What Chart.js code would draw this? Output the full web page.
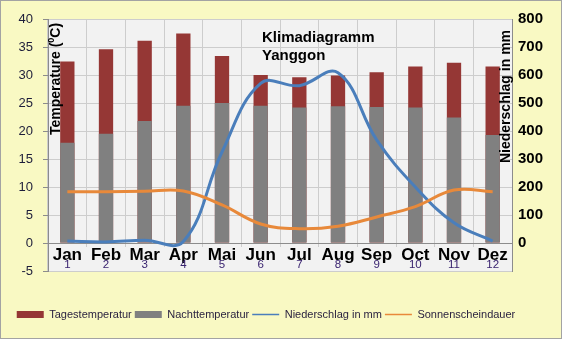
<!DOCTYPE html>
<html>
<head>
<meta charset="utf-8">
<title>Klimadiagramm Yanggon</title>
<script src="https://cdn.jsdelivr.net/npm/chart.js@4.4.1/dist/chart.umd.min.js"></script>
<style>
  html, body { margin: 0; padding: 0; background: #fff; }
  #frame { width: 560px; height: 337px; border: 1px solid #a3a3a3; background: #f9f9c3; }
  canvas { display: block; }
</style>
</head>
<body>
<div id="frame"><canvas id="klima" width="560" height="337"></canvas></div>
<script>
// ---- data ----
const months       = ["Jan", "Feb", "Mar", "Apr", "Mai", "Jun", "Jul", "Aug", "Sep", "Oct", "Nov", "Dez"];
const monthNumbers = ["1", "2", "3", "4", "5", "6", "7", "8", "9", "10", "11", "12"];
const tagesTemp    = [32.4, 34.6, 36.1, 37.4, 33.4, 30.0, 29.6, 29.9, 30.5, 31.5, 32.2, 31.5];
const nachtTemp    = [17.9, 19.5, 21.8, 24.5, 25.0, 24.5, 24.2, 24.4, 24.3, 24.2, 22.4, 19.3];
const niederschlag = [7, 4, 10, 5, 325, 570, 562, 608, 368, 200, 72, 7];
const sonnenschein = [183, 183, 185, 186, 136, 68, 51, 60, 93, 130, 189, 183];

// ---- look ----
const FONT    = "'Liberation Sans', Arial, sans-serif";
const PLOT_BG = "#f2f2f2";
const GRID    = "#cdcdcd";
const AXIS    = "#8c8c8c";

Chart.defaults.font.family = FONT;

// grey plot area; the strip under the zero line keeps only short tick stubs
const plotBackground = {
    id: "plotBackground",
    beforeDraw(chart) {
        const { ctx, chartArea: a } = chart;
        ctx.save();
        ctx.fillStyle = PLOT_BG;
        ctx.fillRect(a.left, a.top, a.width, a.height);
        ctx.restore();
    },
    beforeDatasetsDraw(chart) {
        const { ctx, chartArea: a, scales } = chart;
        const y0 = Math.round(scales.y.getPixelForValue(0));
        ctx.save();
        ctx.fillStyle = PLOT_BG;
        ctx.fillRect(a.left + 1, y0 + 4, a.width - 2, a.bottom - y0 - 4);
        ctx.restore();
    },
};

// title and the two axis captions sit inside the plot
const chartTexts = {
    id: "chartTexts",
    afterDraw(chart) {
        const { ctx, chartArea: a } = chart;
        ctx.save();
        ctx.fillStyle = "#000";
        ctx.textBaseline = "alphabetic";
        ctx.font = "bold 15px " + FONT;
        ctx.fillText("Klimadiagramm", a.left + 214, a.top + 23);
        ctx.fillText("Yanggon", a.left + 214, a.top + 41);

        ctx.save();
        ctx.translate(a.left + 12, a.top + 116);
        ctx.rotate(-Math.PI / 2);
        ctx.font = "bold 14px " + FONT;
        let x = 0;
        ctx.fillText("Temperature (", x, 0);
        x += ctx.measureText("Temperature (").width;
        ctx.font = "bold 9px " + FONT;
        ctx.fillText("0", x, -6);
        x += ctx.measureText("0").width;
        ctx.font = "bold 14px " + FONT;
        ctx.fillText("C)", x, 0);
        ctx.restore();

        ctx.save();
        ctx.translate(a.right - 2, a.top + 144);
        ctx.rotate(-Math.PI / 2);
        ctx.font = "bold 14px " + FONT;
        ctx.fillText("Niederschlag in mm", 0, 0);
        ctx.restore();

        ctx.restore();
    },
};

// legend row is pushed down into the footer band and a bit to the left
const legendOffset = {
    id: "legendOffset",
    afterLayout(chart) {
        const lg = chart.legend;
        lg.left -= 15; lg.right -= 15;
        lg.top += 35;  lg.bottom += 35;
    },
};

new Chart(document.getElementById("klima"), {
    type: "bar",
    data: {
        labels: months,
        datasets: [
            {
                label: "Tagestemperatur",
                data: tagesTemp,
                backgroundColor: "#953735",
                grouped: false,
                categoryPercentage: 0.37,
                barPercentage: 1,
                pointStyle: "rect",
                order: 4,
            },
            {
                label: "Nachttemperatur",
                data: nachtTemp,
                backgroundColor: "#808080",
                grouped: false,
                categoryPercentage: 0.37,
                barPercentage: 1,
                pointStyle: "rect",
                order: 3,
            },
            {
                type: "line",
                label: "Niederschlag in mm",
                data: niederschlag,
                yAxisID: "y2",
                borderColor: "#4a7ebb",
                backgroundColor: "#4a7ebb",
                borderWidth: 3,
                tension: 0.4,
                pointRadius: 0,
                pointStyle: "line",
                order: 2,
            },
            {
                type: "line",
                label: "Sonnenscheindauer",
                data: sonnenschein,
                yAxisID: "y2",
                borderColor: "#e8893a",
                backgroundColor: "#e8893a",
                borderWidth: 3,
                tension: 0.4,
                pointRadius: 0,
                pointStyle: "line",
                order: 1,
            },
        ],
    },
    options: {
        responsive: false,
        animation: false,
        layout: { padding: { top: 18, bottom: 43, left: 0, right: 0 } },
        plugins: {
            tooltip: { enabled: false },
            legend: {
                position: "bottom",
                labels: {
                    usePointStyle: true,
                    pointStyleWidth: 27,
                    boxHeight: 7,
                    padding: 3,
                    color: "#2b2340",
                    font: { size: 11 },
                    sort: (p, q) => p.datasetIndex - q.datasetIndex,
                    generateLabels(chart) {
                        const items = Chart.defaults.plugins.legend.labels.generateLabels(chart);
                        items.forEach(it => { if (it.pointStyle === "line") it.lineWidth = 1.5; });
                        return items;
                    },
                },
            },
        },
        scales: {
            x: {
                type: "category",
                position: { y: 0 },
                offset: true,
                grid: { offset: true, color: GRID, drawTicks: false },
                border: { color: AXIS },
                ticks: {
                    color: "#000",
                    padding: 3.5,
                    autoSkip: false,
                    maxRotation: 0,
                    z: 1,
                    font: { size: 17, weight: "bold", lineHeight: 1 },
                },
            },
            xNum: {
                type: "category",
                labels: monthNumbers,
                position: { y: 0 },
                offset: true,
                grid: { display: false, drawTicks: false },
                border: { display: false },
                ticks: {
                    color: "#3a2470",
                    padding: 16.5,
                    autoSkip: false,
                    maxRotation: 0,
                    z: 1,
                    font: { size: 11.5, lineHeight: 1 },
                },
            },
            y: {
                position: "left",
                min: -5,
                max: 40,
                grid: { color: GRID, tickColor: AXIS, tickLength: 5 },
                border: { color: AXIS },
                ticks: { stepSize: 5, padding: 10, color: "#1d1d3a", font: { size: 13 } },
                afterFit(s) { s.width = 47; },
            },
            y2: {
                position: "right",
                min: -100,
                max: 800,
                grid: { drawOnChartArea: false, drawTicks: false },
                border: { color: AXIS },
                ticks: {
                    stepSize: 100,
                    padding: 6,
                    color: "#000",
                    font: { size: 15, weight: "bold" },
                    callback: v => (v < 0 ? "" : v),
                },
                afterFit(s) { s.width = 49; },
            },
        },
    },
    plugins: [plotBackground, chartTexts, legendOffset],
});
</script>
</body>
</html>
